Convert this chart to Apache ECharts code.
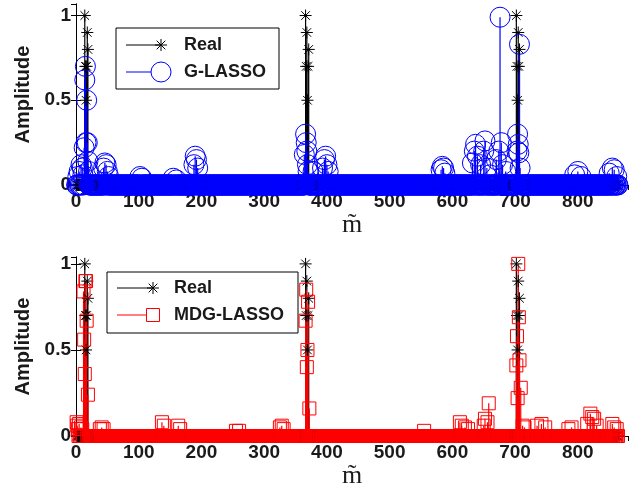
<!DOCTYPE html>
<html>
<head>
<meta charset="utf-8">
<script src="https://cdn.jsdelivr.net/npm/echarts@6/dist/echarts.min.js"></script>
<style>
html,body{margin:0;padding:0;background:#fff;}
#c{width:638px;height:492px;}
</style>
</head>
<body>
<div id="c"></div>
<script>
// ---- data (index m, amplitude) ----
const N = 864;                       // number of indices m = 1..N
const xTicks = [0, 100, 200, 300, 400, 500, 600, 700, 800];
const yTicks = [0, 0.5, 1];

const realIdx = [14, 15, 16, 17, 18, 19, 366, 367, 368, 369, 370, 371, 702, 703, 704, 705, 706, 707];
const realVal = [1.0, 0.7, 0.5, 0.7, 0.9, 0.8, 1.0, 0.7, 0.9, 0.5, 0.7, 0.8, 1.0, 0.7, 0.5, 0.9, 0.7, 0.8];

const glassoIdx = [3, 5, 8, 10, 11, 13, 14, 15, 16, 17, 18, 19, 20, 44, 46, 48, 50, 52, 102, 105, 155, 160,
  188, 190, 192, 194, 364, 366, 367, 368, 369, 370, 378, 393, 396, 398, 400, 402,
  582, 584, 586, 588, 632, 635, 637, 640, 645, 650, 652, 655, 660, 670, 674, 676, 678, 680, 685,
  703, 704, 705, 706, 707, 708, 795, 800, 805, 850, 855, 858, 862];
const glassoVal = [0.05, 0.08, 0.12, 0.1, 0.06, 0.22, 0.62, 0.7, 0.25, 0.5, 0.25, 0.14, 0.08, 0.1, 0.13, 0.12, 0.08, 0.05, 0.05, 0.04, 0.04, 0.03,
  0.12, 0.17, 0.15, 0.1, 0.18, 0.3, 0.25, 0.2, 0.12, 0.08, 0.08, 0.1, 0.15, 0.17, 0.12, 0.08,
  0.09, 0.11, 0.1, 0.07, 0.13, 0.2, 0.24, 0.17, 0.12, 0.2, 0.26, 0.1, 0.06, 0.15, 0.2, 0.99, 0.25, 0.12, 0.08,
  0.2, 0.3, 0.24, 0.19, 0.83, 0.1, 0.06, 0.08, 0.05, 0.07, 0.1, 0.09, 0.05];

const mdgIdx = [1, 2, 3, 5, 8, 10, 12, 13, 14, 15, 16, 17, 19, 38, 41, 44, 137, 140, 163, 166, 255, 260, 325, 328, 331,
  366, 367, 368, 369, 370, 372, 555, 612, 615, 620, 625, 650, 652, 656, 658,
  702, 703, 704, 705, 706, 707, 709, 712, 715, 735, 742, 748, 785, 790, 815, 820, 823, 826, 830, 855, 858, 862];
const mdgVal = [0.08, 0.06, 0.04, 0.07, 0.05, 0.04, 0.84, 0.56, 0.36, 0.9, 0.9, 0.67, 0.24, 0.04, 0.05, 0.04, 0.08, 0.06, 0.06, 0.04, 0.03, 0.03, 0.05, 0.06, 0.04,
  0.67, 0.85, 0.4, 0.5, 0.78, 0.16, 0.03, 0.08, 0.06, 0.05, 0.04, 0.06, 0.1, 0.08, 0.19,
  0.41, 0.58, 0.22, 1.0, 0.69, 0.44, 0.28, 0.06, 0.05, 0.06, 0.07, 0.05, 0.04, 0.05, 0.07, 0.13, 0.11, 0.1, 0.06, 0.07, 0.05, 0.04];

// ---- build full series (indices not listed read as 0) ----
function fullSeries(idx, val) {
  const map = new Map();
  idx.forEach((m, i) => map.set(m, val[i]));
  const out = [];
  for (let m = 1; m <= N; m++) out.push([m, map.has(m) ? map.get(m) : 0]);
  return out;
}
function sparse(idx, val) { return idx.map((m, i) => [m, val[i]]); }

const realFull = fullSeries(realIdx, realVal);
const glassoFull = fullSeries(glassoIdx, glassoVal);
const mdgFull = fullSeries(mdgIdx, mdgVal);

const ASTER = 'path://M0,-6L0,6M-6,0L6,0M-4.3,-4.3L4.3,4.3M-4.3,4.3L4.3,-4.3';
const FONT = 'Liberation Sans';
const TXT = '#1a1a1a';

function stemSeries(data, color, xi, yi) {
  return {
    type: 'custom', xAxisIndex: xi, yAxisIndex: yi, data: data, silent: true,
    renderItem: function (params, api) {
      const x = api.value(0), y = api.value(1);
      const p0 = api.coord([x, 0]);
      const p1 = api.coord([x, y]);
      return { type: 'line', shape: { x1: p0[0], y1: p0[1], x2: p1[0], y2: p1[1] },
               style: { stroke: color, lineWidth: 1.2 } };
    }
  };
}
function markerSeries(data, symbol, size, color, xi, yi, name) {
  return {
    type: 'scatter', name: name, xAxisIndex: xi, yAxisIndex: yi, data: data, clip: false, silent: true,
    symbol: symbol, symbolSize: size,
    itemStyle: { color: 'rgba(0,0,0,0)', borderColor: color, borderWidth: 1, opacity: 1 }
  };
}

const grids = [
  { left: 76, top: 4, width: 552, height: 181 },
  { left: 76, top: 257, width: 552, height: 179 }
];
const yMax = [1.068, 1.04];

function xAxes(gi) {
  return [
    { type: 'value', gridIndex: gi, position: 'bottom', min: 0, max: 880, interval: 100,
      axisLine: { show: true, lineStyle: { color: '#000', width: 1 } },
      axisTick: { show: true, inside: true, length: 5, lineStyle: { color: '#000' } },
      splitLine: { show: false },
      axisLabel: { show: true, showMaxLabel: false, margin: 7, color: TXT, fontFamily: FONT, fontWeight: 'bold', fontSize: 19,
        formatter: v => (xTicks.indexOf(v) >= 0 ? String(v) : '') },
      name: 'm\u0303', nameLocation: 'middle', nameGap: gi === 0 ? 14 : 16,
      nameTextStyle: { fontFamily: 'Liberation Serif', fontSize: 26, color: TXT } },
    { type: 'value', gridIndex: gi, position: 'top', min: 0, max: 880, interval: 100,
      axisLine: { show: true, lineStyle: { color: '#000', width: 1 } },
      axisTick: { show: true, inside: true, length: 5, lineStyle: { color: '#000' } },
      splitLine: { show: false }, axisLabel: { show: false } }
  ];
}
function yAxes(gi) {
  return [
    { type: 'value', gridIndex: gi, position: 'left', min: 0, max: yMax[gi], interval: 0.5,
      axisLine: { show: true, lineStyle: { color: '#000', width: 1 } },
      axisTick: { show: true, inside: true, length: 5, lineStyle: { color: '#000' } },
      splitLine: { show: false },
      axisLabel: { show: true, showMaxLabel: false, margin: 5, color: TXT, fontFamily: FONT, fontWeight: 'bold', fontSize: 19,
        formatter: v => (yTicks.indexOf(v) >= 0 ? String(v) : '') },
      name: 'Amplitude', nameLocation: 'middle', nameGap: 38,
      nameTextStyle: { fontFamily: FONT, fontWeight: 'bold', fontSize: 20, color: TXT } },
    { type: 'value', gridIndex: gi, position: 'right', min: 0, max: yMax[gi], interval: 0.5,
      axisLine: { show: true, lineStyle: { color: '#000', width: 1 } },
      axisTick: { show: true, inside: true, length: 5, lineStyle: { color: '#000' } },
      splitLine: { show: false }, axisLabel: { show: false } }
  ];
}

function asteriskPath(cx, cy, r) {
  const d = r * 0.72;
  return [
    { type: 'line', shape: { x1: cx, y1: cy - r, x2: cx, y2: cy + r } },
    { type: 'line', shape: { x1: cx - r, y1: cy, x2: cx + r, y2: cy } },
    { type: 'line', shape: { x1: cx - d, y1: cy - d, x2: cx + d, y2: cy + d } },
    { type: 'line', shape: { x1: cx - d, y1: cy + d, x2: cx + d, y2: cy - d } }
  ].map(e => Object.assign(e, { style: { stroke: '#000', lineWidth: 1 } }));
}

function legendBox(x0, y0, w, h, lineX0, markX, textX, yA, yB, labelB, markerB) {
  const els = [
    { type: 'rect', shape: { x: x0, y: y0, width: w, height: h }, style: { fill: '#fff', stroke: '#000', lineWidth: 1 } },
    { type: 'line', shape: { x1: lineX0, y1: yA, x2: markX, y2: yA }, style: { stroke: '#000', lineWidth: 1 } }
  ].concat(asteriskPath(markX, yA, 6));
  els.push({ type: 'text', style: { x: textX, y: yA, text: 'Real', fontFamily: FONT, fontWeight: 'bold', fontSize: 18, fill: TXT, verticalAlign: 'middle' } });
  els.push({ type: 'line', shape: { x1: lineX0, y1: yB, x2: markX, y2: yB }, style: { stroke: markerB.color, lineWidth: 1 } });
  if (markerB.kind === 'circle') {
    els.push({ type: 'circle', shape: { cx: markX, cy: yB, r: 10 }, style: { fill: '#fff', stroke: markerB.color, lineWidth: 1 } });
  } else {
    els.push({ type: 'rect', shape: { x: markX - 6.5, y: yB - 6.5, width: 13, height: 13 }, style: { fill: '#fff', stroke: markerB.color, lineWidth: 1 } });
  }
  els.push({ type: 'text', style: { x: textX, y: yB, text: labelB, fontFamily: FONT, fontWeight: 'bold', fontSize: 18, fill: TXT, verticalAlign: 'middle' } });
  return { type: 'group', children: els, z: 100 };
}

const chart = echarts.init(document.getElementById('c'), null, { renderer: 'canvas' });
chart.setOption({
  animation: false,
  backgroundColor: '#fff',
  grid: grids,
  xAxis: xAxes(0).concat(xAxes(1)),
  yAxis: yAxes(0).concat(yAxes(1)),
  series: [
    markerSeries(realFull, ASTER, 12, '#000', 0, 0, 'Real'),
    stemSeries(sparse(realIdx, realVal), '#000', 0, 0),
    stemSeries(sparse(glassoIdx, glassoVal), '#0000ff', 0, 0),
    markerSeries(glassoFull, 'circle', 20, '#0000ff', 0, 0, 'G-LASSO'),
    markerSeries(realFull, ASTER, 12, '#000', 2, 2, 'Real'),
    stemSeries(sparse(realIdx, realVal), '#000', 2, 2),
    stemSeries(sparse(mdgIdx, mdgVal), '#ff0000', 2, 2),
    markerSeries(mdgFull, 'rect', 13, '#ff0000', 2, 2, 'MDG-LASSO')
  ],
  graphic: [
    legendBox(116, 28, 163, 61, 126, 161, 184, 45, 72, 'G-LASSO', { kind: 'circle', color: '#0000ff' }),
    legendBox(107, 272, 191, 61, 117, 153, 174, 288, 315, 'MDG-LASSO', { kind: 'rect', color: '#ff0000' })
  ]
});
</script>
</body>
</html>
